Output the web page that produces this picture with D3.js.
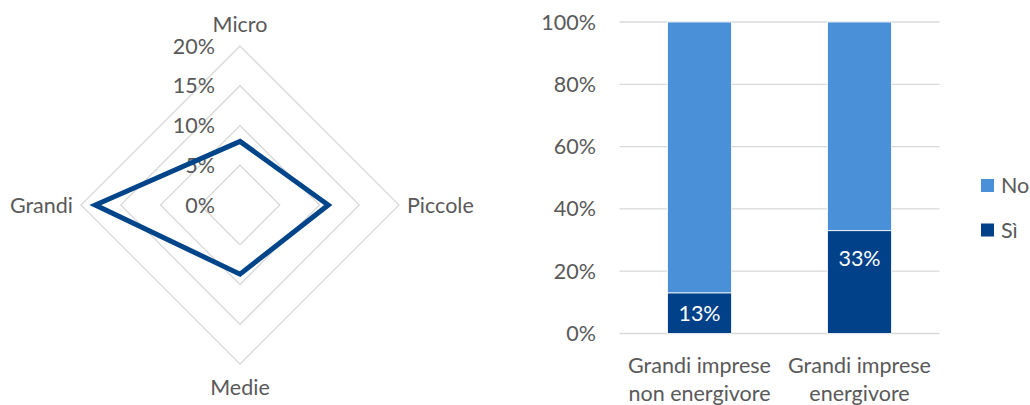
<!DOCTYPE html>
<html><head><meta charset="utf-8">
<script src="https://cdn.jsdelivr.net/npm/d3@7"></script>
<style>
html,body{margin:0;padding:0;background:#fff;}
svg{display:block;font-family:Lato,"Open Sans",sans-serif;}
</style></head>
<body>
<svg id="c" width="1030" height="405"></svg>
<script>
// Radar data
const radarAxes = ["Micro", "Piccole", "Medie", "Grandi"];
const radarValues = [0.080, 0.111, 0.087, 0.182];
const radarTicks = [0, 0.05, 0.10, 0.15, 0.20];

// Bar data
const barCategories = [["Grandi imprese", "non energivore"], ["Grandi imprese", "energivore"]];
const barSi = [0.13, 0.33];
const barNo = [0.87, 0.67];
const barTicks = [0, 0.2, 0.4, 0.6, 0.8, 1.0];
const seriesNames = ["No", "Sì"];

const svg = d3.select("#c");
const txt = "#595959";
const fs = 21.5;

// ---------- Radar ----------
const cx = 240, cy = 205, R = 159;
const r = d3.scaleLinear().domain([0, 0.20]).range([0, R]);
const angle = a => radarAxes.indexOf(a) * 2 * Math.PI / radarAxes.length;
const pt = (a, v) => [cx + r(v) * Math.sin(angle(a)), cy - r(v) * Math.cos(angle(a))];
const rg = svg.append("g");
radarTicks.filter(t => t > 0).forEach(t => {
  rg.append("path")
    .attr("d", d3.line()(radarAxes.map(a => pt(a, t))) + "Z")
    .attr("fill", "none").attr("stroke", "#d9d9d9").attr("stroke-width", 1.3);
});
radarTicks.forEach(t => {
  rg.append("text").attr("x", cx - 25).attr("y", cy - r(t)).attr("dy", "0.35em")
    .attr("text-anchor", "end").attr("fill", txt).attr("font-size", fs).text(d3.format(".0%")(t));
});
rg.append("path")
  .attr("d", d3.line()(radarAxes.map((a, i) => pt(a, radarValues[i]))) + "Z")
  .attr("fill", "none").attr("stroke", "#004489").attr("stroke-width", 5).attr("stroke-linejoin", "miter");
// axis labels
const lab = [
  {a: "Micro", x: cx, y: cy - R - 22, anchor: "middle"},
  {a: "Piccole", x: cx + R + 8, y: cy, anchor: "start"},
  {a: "Medie", x: cx, y: cy + R + 23, anchor: "middle"},
  {a: "Grandi", x: cx - R - 8, y: cy, anchor: "end"}
];
lab.forEach(l => rg.append("text").attr("x", l.x).attr("y", l.y).attr("dy", "0.35em")
  .attr("text-anchor", l.anchor).attr("fill", txt).attr("font-size", fs).text(l.a));

// ---------- Bars ----------
const x0 = 619.5, x1 = 939.5, yTop = 22, yBot = 333.5;
const x = d3.scaleBand().domain(d3.range(barCategories.length)).range([x0, x1]).paddingInner(0.6).paddingOuter(0.3);
const y = d3.scaleLinear().domain([0, 1]).range([yBot, yTop]);
const bg = svg.append("g");
barTicks.forEach(t => {
  bg.append("line").attr("x1", x0).attr("x2", x1).attr("y1", y(t)).attr("y2", y(t))
    .attr("stroke", "#d9d9d9").attr("stroke-width", 1.3);
  bg.append("text").attr("x", 596).attr("y", y(t)).attr("dy", "0.35em").attr("text-anchor", "end")
    .attr("fill", txt).attr("font-size", fs).text(d3.format(".0%")(t));
});
const colNo = "#4a90d9", colSi = "#00418a";
barCategories.forEach((c, i) => {
  bg.append("rect").attr("x", x(i)).attr("width", x.bandwidth())
    .attr("y", y(barSi[i] + barNo[i])).attr("height", y(barSi[i]) - y(barSi[i] + barNo[i]))
    .attr("fill", colNo).attr("stroke", "#fff").attr("stroke-width", 0.8);
  bg.append("rect").attr("x", x(i)).attr("width", x.bandwidth())
    .attr("y", y(barSi[i])).attr("height", y(0) - y(barSi[i]))
    .attr("fill", colSi).attr("stroke", "#fff").attr("stroke-width", 0.8);
  bg.append("text").attr("x", x(i) + x.bandwidth() / 2).attr("y", (y(barSi[i]) + y(0)) / 2 + (i === 1 ? -24 : 0))
    .attr("dy", "0.35em").attr("text-anchor", "middle").attr("fill", "#fff").attr("font-size", fs)
    .text(d3.format(".0%")(barSi[i]));
  c.forEach((line, j) => bg.append("text").attr("x", x(i) + x.bandwidth() / 2).attr("y", 365 + j * 28)
    .attr("dy", "0.35em").attr("text-anchor", "middle").attr("fill", txt).attr("font-size", fs).text(line));
});
// legend
[[seriesNames[0], colNo, 185.5], [seriesNames[1], colSi, 230]].forEach(([n, col, yy]) => {
  bg.append("rect").attr("x", 981).attr("y", yy - 6.5).attr("width", 13).attr("height", 13).attr("fill", col);
  bg.append("text").attr("x", 1001).attr("y", yy).attr("dy", "0.35em").attr("fill", txt).attr("font-size", fs).text(n);
});
</script>
</body></html>
